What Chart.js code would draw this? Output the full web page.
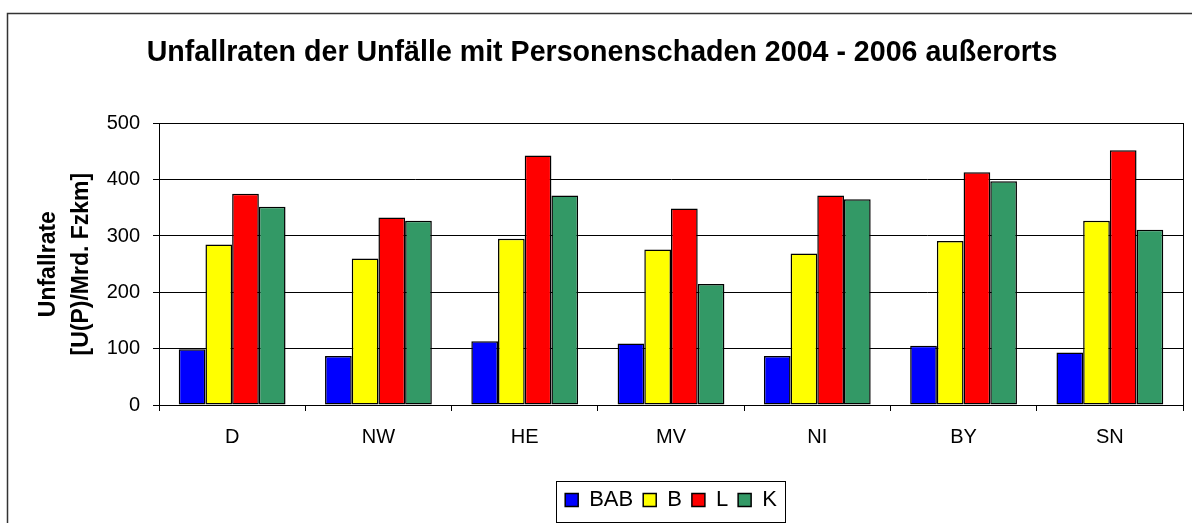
<!DOCTYPE html>
<html>
<head>
<meta charset="utf-8">
<script src="https://cdn.jsdelivr.net/npm/chart.js@4"></script>
<style>
  html, body { margin: 0; padding: 0; background: #fff; }
  #wrap { width: 1192px; height: 523px; position: relative; }
</style>
</head>
<body>
<div id="wrap"><canvas id="chart"></canvas></div>
<script>
// Daten
const categories = ['D', 'NW', 'HE', 'MV', 'NI', 'BY', 'SN'];
const seriesNames = ['BAB', 'B', 'L', 'K'];
const valuesBAB = [99, 87, 113, 109, 87, 105, 93];
const valuesB   = [285, 260, 295, 276, 269, 291, 327];
const valuesL   = [375, 333, 443, 349, 372, 413, 452];
const valuesK   = [352, 327, 372, 215, 365, 397, 311];
const yTicks    = [0, 100, 200, 300, 400, 500];

const colors = ['#0000ff', '#ffff00', '#ff0000', '#339966'];
const FONT = 'Liberation Sans, Arial, sans-serif';

// Rahmen um Diagramm, Plotfläche und Legende
const frames = {
    id: 'frames',
    afterLayout(chart) {
        // Legende unter der Plotfläche zentrieren, Titel leicht nach rechts (wie im Original)
        const lg = chart.legend, a = chart.chartArea;
        const dx = (a.left + a.right) / 2 - (lg.left + lg.right) / 2;
        lg.left += dx;
        lg.right += dx;
        const tb = chart.titleBlock;
        if (tb) {
            const tx = 602 - (tb.left + tb.right) / 2;
            tb.left += tx;
            tb.right += tx;
        }
    },
    beforeDatasetsDraw(chart) {
        const { ctx, chartArea: a } = chart;
        ctx.save();
        ctx.strokeStyle = '#000';
        ctx.lineWidth = 1;
        ctx.strokeRect(Math.round(a.left) + 0.5, Math.round(a.top) + 0.5,
                       Math.round(a.right - a.left), Math.round(a.bottom - a.top));
        ctx.restore();
    },
    afterDraw(chart) {
        const { ctx } = chart;
        ctx.save();
        // äußerer Rahmen
        ctx.strokeStyle = '#333';
        ctx.lineWidth = 1.5;
        ctx.beginPath();
        ctx.moveTo(7.5, 530);
        ctx.lineTo(7.5, 13.5);
        ctx.lineTo(1200, 13.5);
        ctx.stroke();
        // Legendenrahmen
        const lg = chart.legend;
        const pad = lg.options.labels.padding;
        const size = lg.options.labels.font.size;
        const lw = lg.lineWidths ? lg.lineWidths[0] : 0;
        if (lw) {
            const cx = (lg.left + lg.right) / 2;
            const half = (lw - pad) / 2;
            const cy = lg.top + pad + size / 2;
            const x0 = cx - half - 9;
            const x1 = cx + half + 8;
            ctx.strokeStyle = '#000';
            ctx.lineWidth = 1;
            ctx.strokeRect(Math.round(x0) + 0.5, Math.round(cy - 19) + 0.5,
                           Math.round(x1 - x0), 41);
        }
        ctx.restore();
    }
};

const data = [valuesBAB, valuesB, valuesL, valuesK];

new Chart(document.getElementById('chart'), {
    type: 'bar',
    data: {
        labels: categories,
        datasets: seriesNames.map((name, i) => ({
            label: name,
            data: data[i],
            backgroundColor: colors[i],
            borderColor: '#000',
            borderWidth: 1.5,
            borderSkipped: false,
            barPercentage: 1,
            categoryPercentage: 0.73,
        }))
    },
    options: {
        responsive: true,
        maintainAspectRatio: false,
        animation: false,
        layout: { padding: { left: 0, right: 9, top: 0, bottom: 2 } },
        plugins: {
            title: {
                display: true,
                text: 'Unfallraten der Unfälle mit Personenschaden 2004 - 2006 außerorts',
                color: '#000',
                font: { family: FONT, size: 28.6, weight: 'bold', lineHeight: 1.2 },
                padding: { top: 36, bottom: 53 },
            },
            legend: {
                position: 'bottom',
                labels: {
                    color: '#000',
                    font: { family: FONT, size: 22 },
                    boxWidth: 13,
                    boxHeight: 13,
                    padding: 10,
                }
            },
            tooltip: { enabled: false }
        },
        scales: {
            x: {
                grid: {
                    display: true,
                    drawOnChartArea: false,
                    color: '#000',
                    tickLength: 6,
                    offset: true,
                },
                border: { color: '#000', width: 1 },
                ticks: {
                    color: '#000',
                    font: { family: FONT, size: 20 },
                    padding: 14,
                },
                afterFit(scale) { scale.height = 74; }
            },
            y: {
                min: 0,
                max: 500,
                afterBuildTicks(scale) { scale.ticks = yTicks.map(v => ({ value: v })); },
                grid: { color: '#000', tickLength: 6 },
                border: { color: '#000', width: 1 },
                ticks: {
                    color: '#000',
                    font: { family: FONT, size: 20 },
                    padding: 13,
                },
                title: {
                    display: true,
                    text: ['Unfallrate', '[U(P)/Mrd. Fzkm]'],
                    color: '#000',
                    font: { family: FONT, size: 23, weight: 'bold', lineHeight: 1.43 },
                    padding: { top: 32 },
                },
                afterFit(scale) { scale.width = 159; }
            }
        }
    },
    plugins: [frames]
});
</script>
</body>
</html>
